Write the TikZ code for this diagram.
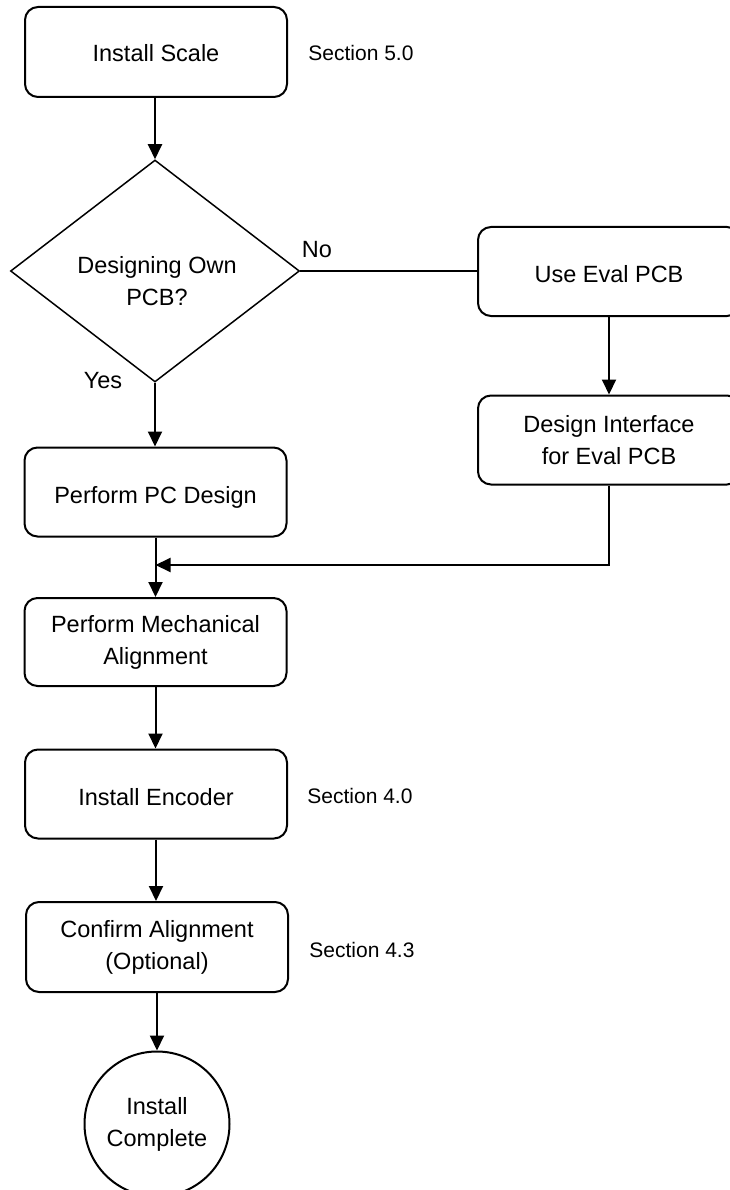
\documentclass[tikz,border=0pt]{standalone}
\usepackage{fontspec}
\setmainfont{Liberation Sans}
\usetikzlibrary{shapes.geometric,arrows.meta}
\newcommand\bigtxt{\fontsize{23.5}{32}\selectfont}
\newcommand\smalltxt{\fontsize{21}{26}\selectfont}
\newcommand\lowtxt[2]{\raisebox{-#1}[\height][\depth]{#2}}
\tikzset{
  stepbox/.style={draw, line width=2pt, rounded corners=13pt, minimum width=262pt,
    minimum height=89pt, align=center, font=\bigtxt, inner sep=0pt},
  decision/.style={draw, diamond, line width=1.5pt, minimum width=289pt,
    minimum height=222pt, aspect=1.3, inner sep=0pt},
  endcircle/.style={draw, circle, line width=2pt, minimum size=145pt, align=center,
    font=\bigtxt, inner sep=0pt},
  note/.style={font=\smalltxt, inner sep=0pt},
  lbl/.style={font=\bigtxt, inner sep=0pt},
  flow/.style={line width=2pt, -{Triangle[length=15pt,width=14pt]}},
  plain/.style={line width=1.5pt}
}
\begin{document}
\begin{tikzpicture}[x=1pt,y=-1pt]
\useasboundingbox (0,0) rectangle (730,1190);
\clip (0,0) rectangle (730,1190);
\fill[white] (0,0) rectangle (730,1190);

\node[stepbox, minimum height=90pt] (scale) at (156,52) {\lowtxt{1.5pt}{Install Scale}};
\node[note] (s50) at (361,53) {Section 5.0};

\node[decision] (dec) at (155,271) {};
\node[lbl, align=center] (dectext) at (157,281) {Designing Own\\PCB?};
\node[lbl] (no) at (317,250) {No};
\node[lbl] (yes) at (103,381) {Yes};

\node[stepbox] (usepcb) at (609,271.5) {\lowtxt{3pt}{Use Eval PCB}};
\node[stepbox] (iface) at (609,440) {Design Interface\\for Eval PCB};

\node[stepbox] (pcd) at (155.5,492) {\lowtxt{5pt}{Perform PC Design}};
\node[stepbox, minimum height=88pt] (mech) at (155.5,642) {Perform Mechanical\\Alignment};
\node[stepbox] (enc) at (156,794) {\lowtxt{3.5pt}{Install Encoder}};
\node[note] (s40) at (360,796) {Section 4.0};
\node[stepbox, minimum height=90pt] (conf) at (157,947) {Confirm Alignment\\(Optional)};
\node[note] (s43) at (362,950) {Section 4.3};
\node[endcircle] (done) at (157,1124) {Install\\Complete};

\coordinate (merge) at (155.5,565);

\draw[flow] (scale.south -| dec.north) -- (dec.north);
\draw[plain] (dec.east) -- (usepcb.west |- dec.east);
\draw[flow] (dec.south) -- (pcd.north -| dec.south);
\draw[flow] (usepcb.south) -- (iface.north);
\draw[flow] (iface.south) |- (merge);
\draw[flow] (pcd.south) -- (mech.north);
\draw[flow] (mech.south) -- (mech.south |- enc.north);
\draw[flow] (enc.south) -- (enc.south |- conf.north);
\draw[flow] (conf.south) -- (done.north);
\end{tikzpicture}
\end{document}
